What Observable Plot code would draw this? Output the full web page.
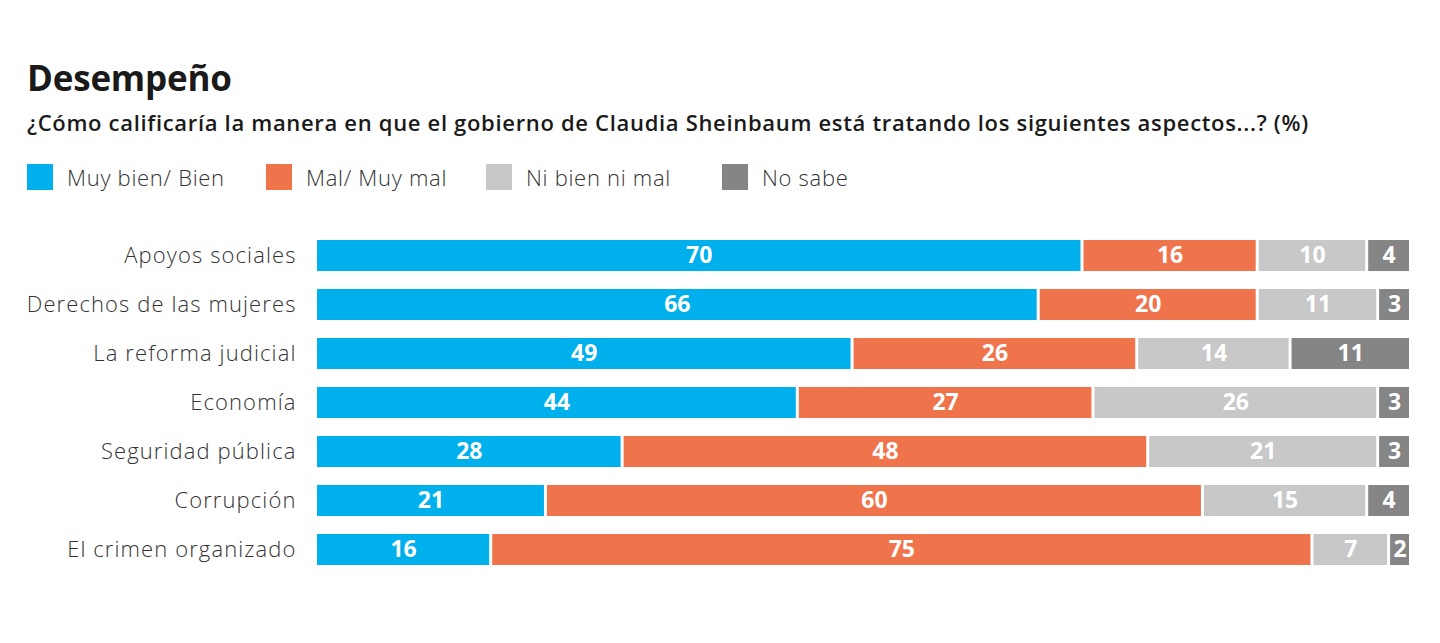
<!DOCTYPE html>
<html>
<head>
<meta charset="utf-8">
<script src="https://cdn.jsdelivr.net/npm/d3@7"></script>
<script src="https://cdn.jsdelivr.net/npm/@observablehq/plot@0.6"></script>
<style>
  html, body { margin: 0; padding: 0; background: #fff; }
  body { width: 1440px; height: 643px; overflow: hidden; font-family: "Open Sans", sans-serif; }
  #header { position: relative; height: 222px; }
  #title { position: absolute; left: 27px; top: 54px; font-size: 35px; font-weight: 700; color: #1a1a1a; letter-spacing: -0.2px; }
  #subtitle { position: absolute; left: 27px; top: 107px; font-size: 22px; font-weight: 600; color: #1a1a1a; letter-spacing: 0.68px; white-space: nowrap; }
  #legend { position: absolute; left: 27px; top: 162px; }
  .item { display: flex; align-items: center; font-size: 22px; color: #333; font-weight: 300; letter-spacing: 0.7px; }
  .sw { width: 26px; height: 26px; margin-right: 14px; }
  #chart svg { display: block; }
  .ylab text { letter-spacing: 1.1px; }
</style>
</head>
<body>
<div id="header">
  <div id="title">Desempeño</div>
  <div id="subtitle">¿Cómo calificaría la manera en que el gobierno de Claudia Sheinbaum está tratando los siguientes aspectos...? (%)</div>
  <div id="legend"></div>
</div>
<div id="chart"></div>
<script>
const categories = ["Apoyos sociales", "Derechos de las mujeres", "La reforma judicial", "Economía", "Seguridad pública", "Corrupción", "El crimen organizado"];
const series = ["Muy bien/ Bien", "Mal/ Muy mal", "Ni bien ni mal", "No sabe"];
const colors = ["#00b0ec", "#ef744c", "#c8c8c8", "#858585"];
const muyBien = [70, 66, 49, 44, 28, 21, 16];
const mal = [16, 20, 26, 27, 48, 60, 75];
const niBienNiMal = [10, 11, 14, 26, 21, 15, 7];
const noSabe = [4, 3, 11, 3, 3, 4, 2];

const seriesValues = [muyBien, mal, niBienNiMal, noSabe];
const data = [];
series.forEach((s, si) => {
  categories.forEach((c, ci) => data.push({cat: c, type: s, value: seriesValues[si][ci]}));
});

const legendStarts = [0, 239, 459, 695];
const legend = document.getElementById("legend");
series.forEach((s, i) => {
  const it = document.createElement("div");
  it.className = "item";
  it.style.position = "absolute";
  it.style.left = legendStarts[i] + "px";
  it.style.top = "0px";
  it.innerHTML = `<span class="sw" style="background:${colors[i]}"></span><span style="white-space:nowrap">${s}</span>`;
  legend.appendChild(it);
});

const chart = Plot.plot({
  width: 1440,
  height: 421,
  marginLeft: 317,
  marginRight: 28,
  marginTop: 18,
  marginBottom: 78,
  style: {fontFamily: "Open Sans, sans-serif", background: "#fff"},
  x: {domain: [0, 100], axis: null},
  y: {domain: categories, paddingInner: 0.367, paddingOuter: 0, round: false, label: null, axis: null},
  color: {domain: series, range: colors},
  marks: [
    Plot.barX(data, Plot.stackX({y: "cat", x: "value", z: "type", fill: "type", insetRight: 3})),
    Plot.text(data, Plot.stackX({y: "cat", x: "value", z: "type", text: d => String(d.value), fill: "#fff", fontSize: 23, fontWeight: 700, dx: -1.5})),
    Plot.axisY({className: "ylab", tickSize: 0, tickPadding: 21, fontSize: 22, fill: "#333", fontWeight: 300, label: null})
  ]
});
document.getElementById("chart").appendChild(chart);
</script>
</body>
</html>
